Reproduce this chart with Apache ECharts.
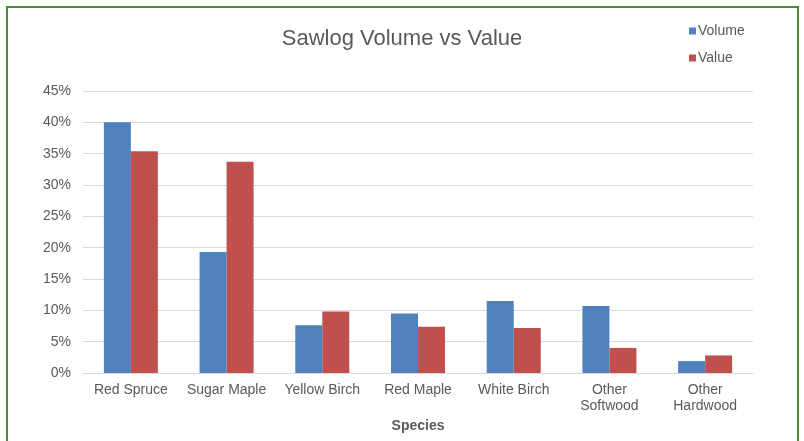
<!DOCTYPE html>
<html>
<head>
<meta charset="utf-8">
<script src="https://cdn.jsdelivr.net/npm/echarts@6/dist/echarts.min.js"></script>
<style>
  html, body { margin: 0; padding: 0; background: #fff; }
  #chart { width: 804px; height: 441px; }
</style>
</head>
<body>
<div id="chart"></div>
<script>
var species = ['Red Spruce', 'Sugar Maple', 'Yellow Birch', 'Red Maple', 'White Birch', 'Other\nSoftwood', 'Other\nHardwood'];
var volume = [40.0, 19.3, 7.6, 9.5, 11.5, 10.7, 1.9];
var value = [35.4, 33.7, 9.8, 7.4, 7.2, 4.0, 2.8];
var yTicks = [0, 45, 5]; // min, max, step

var font = "'Liberation Sans Narrow', 'Liberation Sans', sans-serif";
var chart = echarts.init(document.getElementById('chart'));

chart.setOption({
    animation: false,
    title: {
        text: 'Sawlog Volume vs Value',
        left: 'center',
        top: 23,
        textStyle: { fontFamily: font, fontSize: 22, fontWeight: 'normal', color: '#595959' }
    },
    legend: {
        orient: 'vertical',
        left: 684,
        top: 19,
        itemWidth: 7,
        itemHeight: 7,
        itemGap: 13,
        icon: 'rect',
        textStyle: { fontFamily: font, fontSize: 14, color: '#595959', padding: [0, 0, 0, -3] },
        data: ['Volume', 'Value']
    },
    grid: { left: 83, right: 51, top: 91, bottom: 68 },
    xAxis: {
        type: 'category',
        data: species,
        name: 'Species',
        nameLocation: 'middle',
        nameGap: 42,
        nameTextStyle: { fontFamily: font, fontSize: 14, fontWeight: 'bold', color: '#595959' },
        axisLine: { lineStyle: { color: '#d9d9d9' } },
        axisTick: { show: false },
        axisLabel: { fontFamily: font, fontSize: 14, color: '#595959', margin: 9, lineHeight: 16, interval: 0 }
    },
    yAxis: {
        type: 'value',
        min: yTicks[0],
        max: yTicks[1],
        interval: yTicks[2],
        axisLine: { show: false },
        axisTick: { show: false },
        splitLine: { lineStyle: { color: '#d9d9d9' } },
        axisLabel: { fontFamily: font, fontSize: 14, color: '#595959', margin: 12, formatter: '{value}%' }
    },
    series: [
        {
            name: 'Volume',
            type: 'bar',
            data: volume,
            barWidth: 27,
            barGap: '0%',
            itemStyle: { color: '#4f81bd' }
        },
        {
            name: 'Value',
            type: 'bar',
            data: value,
            barWidth: 27,
            itemStyle: { color: '#c0504d' }
        }
    ],
    graphic: [{
        type: 'rect',
        shape: { x: 7, y: 7, width: 791, height: 450 },
        style: { fill: 'none', stroke: '#4e8a3a', lineWidth: 2 },
        silent: true
    }]
});
</script>
</body>
</html>
